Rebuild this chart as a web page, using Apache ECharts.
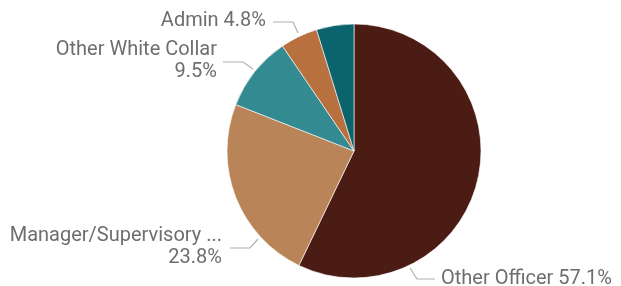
<!DOCTYPE html>
<html>
<head>
<meta charset="utf-8">
<script src="https://cdn.jsdelivr.net/npm/echarts@6/dist/echarts.min.js"></script>
<style>
  html, body { margin: 0; padding: 0; background: #fff; }
  #container { width: 621px; height: 286px; }
</style>
</head>
<body>
<div id="container"></div>
<script>
var categories = ["Other Officer", "Manager/Supervisory ...", "Other White Collar", "Admin", ""];
var counts = [12, 5, 2, 1, 1];
var colors = ["#4a1c14", "#b98558", "#338a90", "#b8703f", "#0a636d"];

var dom = document.getElementById("container");
var myChart = echarts.init(dom);

// where the labels sit (Power BI style), keyed by slice index
var labelSpots = [
    { x: 441, y: 279, align: "left", line: [[410, 268], [417, 279], [435, 279]] },
    { x: 222, y: 247, align: "right", line: [[258, 239], [250, 248], [230, 248]] },
    { x: 217, y: 61, align: "right", line: [[253, 69], [243, 62], [223, 62]] },
    { x: 266, y: 21, align: "right", line: [[298, 33], [293, 22], [273, 22]] },
    null
];

var pieData = categories.map(function (name, i) {
    var item = {
        name: name,
        value: counts[i],
        itemStyle: { color: colors[i] }
    };
    if (name === "") {
        item.label = { show: false };
        item.labelLine = { show: false };
    }
    return item;
});

var option = {
    animation: false,
    series: [
        {
            type: "pie",
            center: [354, 151],
            radius: 127,
            startAngle: 90,
            clockwise: true,
            percentPrecision: 1,
            itemStyle: {
                borderColor: "#ffffff",
                borderWidth: 0.6
            },
            label: {
                show: true,
                position: "outside",
                overflow: "none",
                color: "#6e6e6e",
                fontFamily: "Roboto",
                fontSize: 20,
                lineHeight: 22,
                formatter: function (p) {
                    var sep = p.name.length > 14 ? "\n" : " ";
                    return p.name + sep + p.percent.toFixed(1) + "%";
                }
            },
            labelLine: {
                show: true,
                lineStyle: { color: "#b0b0b0", width: 1.2 }
            },
            labelLayout: function (params) {
                var s = labelSpots[params.dataIndex];
                if (!s) return {};
                return {
                    x: s.x,
                    y: s.y,
                    align: s.align,
                    verticalAlign: "middle",
                    labelLinePoints: s.line
                };
            },
            data: pieData
        }
    ]
};

myChart.setOption(option);
</script>
</body>
</html>
